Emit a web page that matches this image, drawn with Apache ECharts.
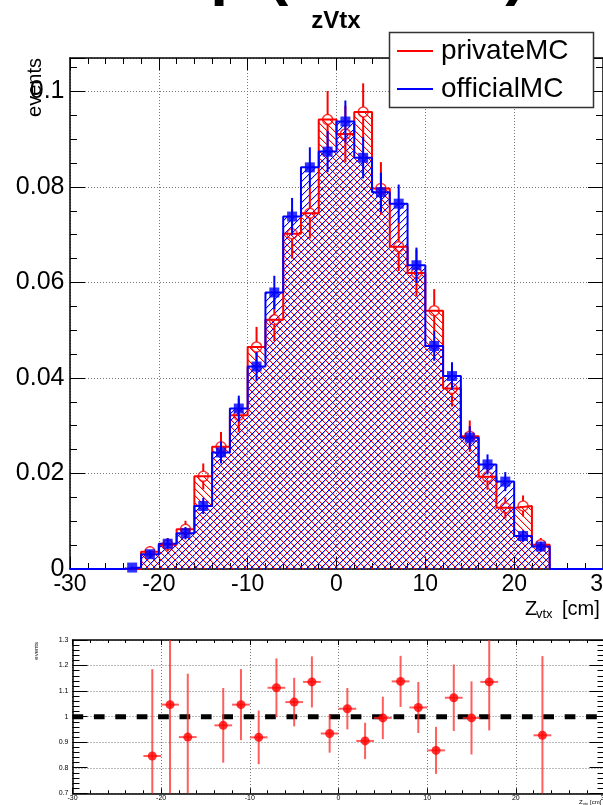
<!DOCTYPE html>
<html><head><meta charset="utf-8">
<script src="https://cdn.jsdelivr.net/npm/echarts@6/dist/echarts.min.js"></script>
<style>html,body{margin:0;padding:0;background:#fff;}#c{width:603px;height:805px;}</style>
</head><body><div id="c"></div>
<script>
// ---------- data ----------
const binCenters = [-29,-27,-25,-23,-21,-19,-17,-15,-13,-11,-9,-7,-5,-3,-1,1,3,5,7,9,11,13,15,17,19,21,23,25,27,29];
const binHalfWidth = 1;
const privateMC  = [0,0,0,0,0.0036,0.0051,0.0083,0.0194,0.0256,0.0322,0.0465,0.0522,0.0702,0.0745,0.0941,0.0911,0.0957,0.0797,0.0675,0.0620,0.0541,0.0378,0.0278,0.0193,0.0128,0.0132,0.0051,0,0,0];
const officialMC = [0,0,0,0.0003,0.0031,0.0053,0.0075,0.0132,0.0244,0.0336,0.0424,0.0579,0.0738,0.0841,0.0874,0.0937,0.0861,0.0789,0.0765,0.0636,0.0467,0.0404,0.0275,0.0219,0.0183,0.0069,0.0047,0,0,0];
const privateErr  = [0,0,0,0,0.0012,0.0014,0.0018,0.0027,0.0031,0.0035,0.0042,0.0045,0.0052,0.0053,0.0060,0.0059,0.0060,0.0055,0.0051,0.0049,0.0045,0.0038,0.0033,0.0027,0.0022,0.0022,0.0014,0,0,0];
const officialErr = [0,0,0,0.00025,0.0008,0.0011,0.0013,0.0017,0.0023,0.0027,0.0030,0.0035,0.0039,0.0042,0.0043,0.0044,0.0043,0.0041,0.0040,0.0037,0.0031,0.0029,0.0024,0.0021,0.0020,0.0012,0.0010,0,0,0];
const ratioX   = [-21,-19,-17,-13,-11,-9,-7,-5,-3,-1,1,3,5,7,9,11,13,15,17,23];
const ratioVal = [0.846,1.047,0.920,0.966,1.047,0.919,1.113,1.057,1.136,0.934,1.031,0.905,0.995,1.138,1.036,0.868,1.074,0.995,1.136,0.927];
const ratioErr = [0.34,0.36,0.248,0.146,0.139,0.105,0.115,0.095,0.10,0.075,0.081,0.071,0.083,0.10,0.10,0.092,0.13,0.143,0.19,0.31];
const xMin = -30, xMax = 30, xStep = 10;
const yMainMax = 0.107, yMainStep = 0.02;
const rMin = 0.7, rMax = 1.3, rStep = 0.1;
const refLine = 1.0;

// ---------- helpers ----------
const RED = '#ff0000', BLUE = '#0000ff';
const FONT = '"Liberation Sans", Arial, Helvetica, sans-serif';
function hatch(rgb, dir) {
  const s = 7, cv = document.createElement('canvas');
  cv.width = s; cv.height = s;
  const g = cv.getContext('2d');
  for (let i = 0; i < s; i++) {
    const y = dir > 0 ? s - 1 - i : i;
    g.fillStyle = 'rgb(' + rgb + ')';
    g.fillRect(i, y, 1, 1);
    g.fillStyle = 'rgba(' + rgb + ',0.25)';
    g.fillRect((i + 1) % s, y, 1, 1);
  }
  return { image: cv, repeat: 'repeat' };
}
const redPattern = hatch('255,0,0', -1);
const bluePattern = hatch('0,0,255', 1);

function histData(vals) { return binCenters.map((c, i) => [c, vals[i]]); }
function stepData(vals) {
  const pts = binCenters.map((c, i) => [c - binHalfWidth, vals[i]]);
  pts.push([xMax, vals[vals.length - 1]]);
  return pts;
}
function errData(vals, errs) {
  const out = [];
  binCenters.forEach((c, i) => { if (vals[i] > 0) out.push([c, vals[i], errs[i]]); });
  return out;
}
function fillItem(pattern) {
  return function (params, api) {
    const c = api.value(0), v = api.value(1);
    if (!(v > 0)) return null;
    const p0 = api.coord([c - binHalfWidth, v]);
    const p1 = api.coord([c + binHalfWidth, 0]);
    return { type: 'rect', shape: { x: p0[0], y: p0[1], width: p1[0] - p0[0], height: p1[1] - p0[1] },
      style: { fill: pattern, stroke: null } };
  };
}
function errItem(color, gap) {
  return function (params, api) {
    const c = api.value(0), v = api.value(1), e = api.value(2);
    const top = api.coord([c, v + e]), mid = api.coord([c, v]), bot = api.coord([c, Math.max(v - e, 0)]);
    const ch = [];
    if (mid[1] - top[1] > gap) ch.push({ type: 'line', shape: { x1: mid[0], y1: top[1], x2: mid[0], y2: mid[1] - gap }, style: { stroke: color, lineWidth: 2 } });
    if (bot[1] - mid[1] > gap) ch.push({ type: 'line', shape: { x1: mid[0], y1: mid[1] + gap, x2: mid[0], y2: bot[1] }, style: { stroke: color, lineWidth: 2 } });
    return { type: 'group', children: ch };
  };
}
function ratioErrItem(params, api) {
  const c = api.value(0), r = api.value(1), e = api.value(2);
  const hi = api.coord([c, Math.min(r + e, rMax)]), lo = api.coord([c, Math.max(r - e, rMin)]);
  const l = api.coord([c - binHalfWidth, r]), rt = api.coord([c + binHalfWidth, r]);
  const st = { stroke: 'rgba(255,40,40,0.75)', lineWidth: 2 };
  return { type: 'group', children: [
    { type: 'line', shape: { x1: hi[0], y1: hi[1], x2: lo[0], y2: lo[1] }, style: st },
    { type: 'line', shape: { x1: l[0], y1: l[1], x2: rt[0], y2: rt[1] }, style: st }
  ] };
}
function fmt(v) { return String(Math.round(v * 1000) / 1000); }

const dotted = { show: true, lineStyle: { color: '#777', width: 1, type: [1, 2] } };
function xAxisDef(grid, pos, labels, majorLen, minorLen, fontSize, margin) {
  return {
    type: 'value', gridIndex: grid, position: pos, min: xMin, max: xMax, interval: xStep,
    axisLine: { show: true, onZero: false, lineStyle: { color: '#000', width: 1.5 } },
    axisTick: { show: true, inside: true, length: majorLen, lineStyle: { color: '#000', width: 1 } },
    minorTick: { show: true, splitNumber: 5, length: minorLen, lineStyle: { color: '#000', width: 1 } },
    axisLabel: { show: labels, color: '#000', fontSize: fontSize, fontFamily: FONT, margin: margin, formatter: fmt, showMinLabel: true, showMaxLabel: true, hideOverlap: false },
    splitLine: labels ? dotted : { show: false },
    minorSplitLine: { show: false }
  };
}
function yAxisDef(grid, pos, labels, min, max, step, split, majorLen, minorLen, fontSize, margin) {
  return {
    type: 'value', gridIndex: grid, position: pos, min: min, max: max, interval: step,
    axisLine: { show: true, onZero: false, lineStyle: { color: '#000', width: 1.5 } },
    axisTick: { show: true, inside: true, length: majorLen, lineStyle: { color: '#000', width: 1 } },
    minorTick: { show: true, splitNumber: split, length: minorLen, lineStyle: { color: '#000', width: 1 } },
    axisLabel: { show: labels, color: '#000', fontSize: fontSize, fontFamily: FONT, margin: margin, formatter: fmt, showMinLabel: true, showMaxLabel: max === yMainMax ? false : true, hideOverlap: false },
    splitLine: labels ? dotted : { show: false }
  };
}

const chart = echarts.init(document.getElementById('c'), null, { renderer: 'canvas' });
chart.setOption({
  animation: false,
  backgroundColor: '#fff',
  grid: [
    { left: 70, top: 58, width: 533, height: 511, containLabel: false, outerBoundsMode: 'none' },
    { left: 72.5, top: 640, width: 532, height: 153.3, containLabel: false, outerBoundsMode: 'none' }
  ],
  xAxis: [
    xAxisDef(0, 'bottom', true, 12, 6, 23, 4),
    xAxisDef(0, 'top', false, 12, 6, 23, 4),
    xAxisDef(1, 'bottom', true, 5, 3, 7, 1),
    xAxisDef(1, 'top', false, 5, 3, 7, 1)
  ],
  yAxis: [
    yAxisDef(0, 'left', true, 0, yMainMax, yMainStep, 4, 15, 7, 25, 5.5),
    yAxisDef(0, 'right', false, 0, yMainMax, yMainStep, 4, 15, 7, 25, 5.5),
    yAxisDef(1, 'left', true, rMin, rMax, rStep, 5, 15, 7, 7, 4),
    yAxisDef(1, 'right', false, rMin, rMax, rStep, 5, 15, 7, 7, 4)
  ],
  series: [
    { type: 'custom', name: 'privateFill', xAxisIndex: 0, yAxisIndex: 0, data: histData(privateMC), renderItem: fillItem(redPattern), z: 1, silent: true },
    { type: 'custom', name: 'officialFill', xAxisIndex: 0, yAxisIndex: 0, data: histData(officialMC), renderItem: fillItem(bluePattern), z: 2, silent: true },
    { type: 'line', name: 'privateMC', xAxisIndex: 0, yAxisIndex: 0, step: 'end', data: stepData(privateMC), symbol: 'none', lineStyle: { color: RED, width: 2 }, z: 3, silent: true },
    { type: 'line', name: 'officialMC', xAxisIndex: 0, yAxisIndex: 0, step: 'end', data: stepData(officialMC), symbol: 'none', lineStyle: { color: BLUE, width: 2 }, z: 4, silent: true },
    { type: 'custom', name: 'privateErr', xAxisIndex: 0, yAxisIndex: 0, data: errData(privateMC, privateErr), renderItem: errItem(RED, 5), z: 5, silent: true },
    { type: 'scatter', name: 'privatePts', xAxisIndex: 0, yAxisIndex: 0, data: errData(privateMC, privateErr).map(d => [d[0], d[1]]), symbol: 'circle', symbolSize: 10, itemStyle: { color: 'rgba(0,0,0,0)', borderColor: RED, borderWidth: 1.5 }, z: 6, silent: true },
    { type: 'custom', name: 'officialErr', xAxisIndex: 0, yAxisIndex: 0, data: errData(officialMC, officialErr), renderItem: errItem(BLUE, 0), z: 7, silent: true },
    { type: 'scatter', name: 'officialPts', xAxisIndex: 0, yAxisIndex: 0, data: errData(officialMC, officialErr).map(d => [d[0], d[1]]), symbol: 'rect', symbolSize: 10, itemStyle: { color: BLUE }, z: 8, silent: true },
    { type: 'line', name: 'unity', xAxisIndex: 2, yAxisIndex: 2, data: [[xMin, refLine], [xMax, refLine]], symbol: 'none', lineStyle: { color: '#000', width: 5, type: [10.7, 10.7], cap: 'butt' }, z: 1, silent: true },
    { type: 'custom', name: 'ratioErr', xAxisIndex: 2, yAxisIndex: 2, data: ratioX.map((x, i) => [x, ratioVal[i], ratioErr[i]]), renderItem: ratioErrItem, z: 2, silent: true },
    { type: 'scatter', name: 'ratio', xAxisIndex: 2, yAxisIndex: 2, data: ratioX.map((x, i) => [x, ratioVal[i]]), symbol: 'circle', symbolSize: 9, itemStyle: { color: RED }, z: 3, silent: true }
  ],
  graphic: [
    { type: 'text', x: 68, y: -25, z: 50, style: { text: 'Comp (MC/MC)', font: 'bold 64px ' + FONT, fill: '#000', align: 'left', verticalAlign: 'middle', textAlign: 'left', textVerticalAlign: 'middle' } },
    { type: 'text', x: 336, y: 21, z: 50, style: { text: 'zVtx', font: 'bold 24px ' + FONT, fill: '#000', align: 'center', verticalAlign: 'middle', textAlign: 'center', textVerticalAlign: 'middle' } },
    { type: 'text', x: 35, y: 58, rotation: Math.PI / 2, z: 50, style: { text: 'events', font: '20px ' + FONT, fill: '#000', align: 'right', verticalAlign: 'middle', textAlign: 'right', textVerticalAlign: 'middle' } },
    { type: 'text', x: 525, y: 609, z: 50, style: { text: 'Z', font: '20px ' + FONT, fill: '#000', align: 'left', verticalAlign: 'middle', textAlign: 'left', textVerticalAlign: 'middle' } },
    { type: 'text', x: 536, y: 614, z: 50, style: { text: 'vtx', font: '13px ' + FONT, fill: '#000', align: 'left', verticalAlign: 'middle', textAlign: 'left', textVerticalAlign: 'middle' } },
    { type: 'text', x: 562, y: 609, z: 50, style: { text: '[cm]', font: '20px ' + FONT, fill: '#000', align: 'left', verticalAlign: 'middle', textAlign: 'left', textVerticalAlign: 'middle' } },
    { type: 'rect', z: 60, shape: { x: 389.5, y: 32.5, width: 204, height: 75 }, style: { fill: '#fff', stroke: '#333', lineWidth: 1.5 } },
    { type: 'line', z: 61, shape: { x1: 397, y1: 51, x2: 433, y2: 51 }, style: { stroke: RED, lineWidth: 2 } },
    { type: 'line', z: 61, shape: { x1: 397, y1: 89, x2: 433, y2: 89 }, style: { stroke: BLUE, lineWidth: 2 } },
    { type: 'text', x: 441, y: 51, z: 61, style: { text: 'privateMC', font: '28px ' + FONT, fill: '#000', align: 'left', verticalAlign: 'middle', textAlign: 'left', textVerticalAlign: 'middle' } },
    { type: 'text', x: 441, y: 89, z: 61, style: { text: 'officialMC', font: '28px ' + FONT, fill: '#000', align: 'left', verticalAlign: 'middle', textAlign: 'left', textVerticalAlign: 'middle' } },
    { type: 'text', x: 36, y: 642, rotation: Math.PI / 2, z: 50, style: { text: 'events', font: '6px ' + FONT, fill: '#000', align: 'right', verticalAlign: 'middle', textAlign: 'right', textVerticalAlign: 'middle' } },
    { type: 'text', x: 579, y: 802, z: 50, style: { text: 'Z', font: '6px ' + FONT, fill: '#000', align: 'left', verticalAlign: 'middle', textAlign: 'left', textVerticalAlign: 'middle' } },
    { type: 'text', x: 583, y: 803.5, z: 50, style: { text: 'vtx', font: '4px ' + FONT, fill: '#000', align: 'left', verticalAlign: 'middle', textAlign: 'left', textVerticalAlign: 'middle' } },
    { type: 'text', x: 590, y: 802, z: 50, style: { text: '[cm]', font: '6px ' + FONT, fill: '#000', align: 'left', verticalAlign: 'middle', textAlign: 'left', textVerticalAlign: 'middle' } }
  ]
});
</script></body></html>
